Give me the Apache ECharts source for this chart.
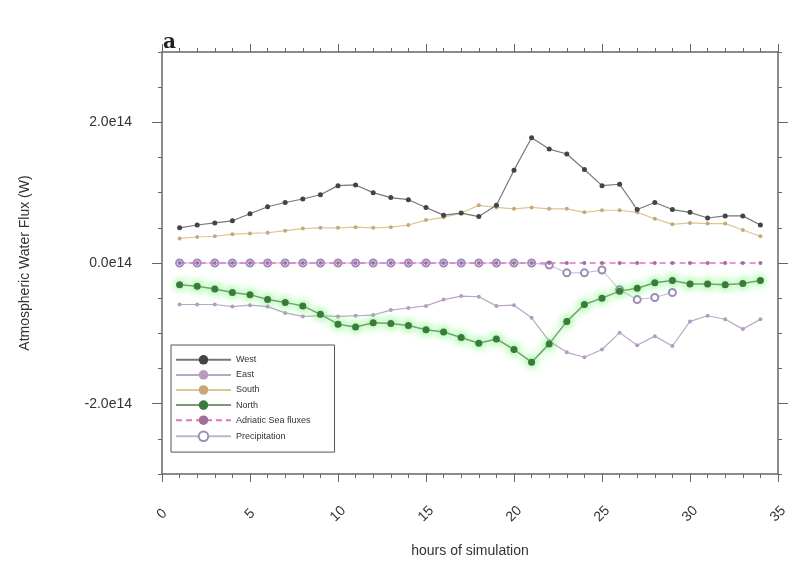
<!DOCTYPE html>
<html>
<head>
<meta charset="utf-8">
<script src="https://cdn.jsdelivr.net/npm/echarts@6/dist/echarts.min.js"></script>
<style>
  html, body { margin: 0; padding: 0; background: #fff; }
  #chart { width: 796px; height: 563px; }
</style>
</head>
<body>
<div id="chart"></div>
<script>
  // hours of simulation
  const hours = [1, 2, 3, 4, 5, 6, 7, 8, 9, 10, 11, 12, 13, 14, 15, 16, 17,
    18, 19, 20, 21, 22, 23, 24, 25, 26, 27, 28, 29, 30, 31, 32, 33, 34]
  // fluxes in units of 1e14 W
  const west = [0.50, 0.54, 0.57, 0.60, 0.70, 0.80, 0.86, 0.91, 0.97, 1.10, 1.11, 1.00, 0.93, 0.90, 0.79, 0.68, 0.71,
    0.66, 0.82, 1.32, 1.78, 1.62, 1.55, 1.33, 1.10, 1.12, 0.76, 0.86, 0.76, 0.72, 0.64, 0.67, 0.67, 0.54]
  const east = [-0.59, -0.59, -0.59, -0.62, -0.60, -0.62, -0.71, -0.76, -0.75, -0.76, -0.75, -0.74, -0.67, -0.64, -0.61, -0.52, -0.47,
    -0.48, -0.61, -0.60, -0.78, -1.11, -1.27, -1.34, -1.23, -0.99, -1.17, -1.04, -1.18, -0.83, -0.75, -0.80, -0.94, -0.80]
  const south = [0.35, 0.37, 0.38, 0.41, 0.42, 0.43, 0.46, 0.49, 0.50, 0.50, 0.51, 0.50, 0.51, 0.54, 0.61, 0.65, 0.71,
    0.82, 0.79, 0.77, 0.79, 0.77, 0.77, 0.72, 0.75, 0.75, 0.72, 0.63, 0.55, 0.57, 0.56, 0.56, 0.47, 0.38]
  const north = [-0.31, -0.33, -0.37, -0.42, -0.45, -0.52, -0.56, -0.61, -0.73, -0.87, -0.91, -0.85, -0.86, -0.89, -0.95, -0.98, -1.06,
    -1.14, -1.08, -1.23, -1.41, -1.15, -0.83, -0.59, -0.50, -0.40, -0.36, -0.28, -0.25, -0.30, -0.30, -0.31, -0.29, -0.25]
  const adriatic = [0, 0, 0, 0, 0, 0, 0, 0, 0, 0, 0, 0, 0, 0, 0, 0, 0,
    0, 0, 0, 0, 0, 0, 0, 0, 0, 0, 0, 0, 0, 0, 0, 0, 0]
  const precip = [0, 0, 0, 0, 0, 0, 0, 0, 0, 0, 0, 0, 0, 0, 0, 0, 0,
    0, 0, 0, 0, -0.03, -0.14, -0.14, -0.10, -0.38, -0.52, -0.49, -0.42, null, null, null, null, null]
  const yLabels = [-2, 0, 2]

  const pairs = (arr) => arr.map((v, i) => [hours[i], v])
  const frame = { onZero: false, lineStyle: { color: '#666', width: 1.5 } }
  const fnt = 'Liberation Sans, Arial, sans-serif'

  let myChart = echarts.init(document.getElementById('chart'))
  myChart.setOption({
    backgroundColor: '#fff',
    animation: false,
    title: {
      text: 'a',
      left: 158,
      top: 28,
      textStyle: { fontFamily: 'DejaVu Serif, serif', fontWeight: 'bold', fontSize: 20, color: '#222' }
    },
    grid: { left: 162, right: 18, top: 52, bottom: 86 },
    legend: {
      orient: 'vertical',
      left: 171,
      top: 345,
      itemWidth: 55,
      itemHeight: 12,
      itemGap: 5.5,
      padding: [10, 24, 10, 4],
      borderColor: '#555',
      borderWidth: 1,
      textStyle: { fontSize: 9, color: '#333', fontFamily: fnt },
      data: ['West', 'East', 'South', 'North', 'Adriatic Sea fluxes', 'Precipitation']
    },
    xAxis: [
      {
        type: 'value',
        position: 'bottom',
        min: 0,
        max: 35,
        interval: 5,
        name: 'hours of simulation',
        nameLocation: 'middle',
        nameGap: 70,
        nameTextStyle: { fontSize: 14, color: '#333', fontFamily: fnt },
        axisLine: frame,
        axisTick: { length: 8, lineStyle: { color: '#666' } },
        minorTick: { show: true, splitNumber: 5, length: 4, lineStyle: { color: '#666' } },
        axisLabel: {
          rotate: 45,
          align: 'center',
          verticalAlign: 'middle',
          margin: 40,
          fontSize: 14,
          color: '#333',
          fontFamily: fnt
        },
        splitLine: { show: false }
      },
      {
        type: 'value',
        position: 'top',
        min: 0,
        max: 35,
        interval: 5,
        axisLine: frame,
        axisTick: { length: 8, lineStyle: { color: '#666' } },
        minorTick: { show: true, splitNumber: 5, length: 4, lineStyle: { color: '#666' } },
        axisLabel: { show: false },
        splitLine: { show: false }
      }
    ],
    yAxis: [
      {
        type: 'value',
        position: 'left',
        min: -3,
        max: 3,
        interval: 0.5,
        name: 'Atmospheric Water Flux (W)',
        nameLocation: 'middle',
        nameGap: 130,
        nameTextStyle: { fontSize: 14, color: '#333', fontFamily: fnt },
        axisLine: frame,
        axisTick: { length: 4, lineStyle: { color: '#666' } },
        axisLabel: {
          margin: 30,
          fontSize: 14,
          color: '#333',
          fontFamily: fnt,
          formatter: (v) => yLabels.indexOf(v) >= 0 ? v.toFixed(1) + 'e14' : ''
        },
        splitLine: { show: false }
      },
      {
        type: 'value',
        position: 'left',
        min: -3,
        max: 3,
        axisLine: { show: false, onZero: false },
        axisTick: { customValues: yLabels, length: 10, lineStyle: { color: '#666' } },
        axisLabel: { show: false },
        splitLine: { show: false }
      },
      {
        type: 'value',
        position: 'right',
        min: -3,
        max: 3,
        interval: 0.5,
        axisLine: frame,
        axisTick: { length: 4, lineStyle: { color: '#666' } },
        axisLabel: { show: false },
        splitLine: { show: false }
      },
      {
        type: 'value',
        position: 'right',
        min: -3,
        max: 3,
        axisLine: { show: false, onZero: false },
        axisTick: { customValues: yLabels, length: 10, lineStyle: { color: '#666' } },
        axisLabel: { show: false },
        splitLine: { show: false }
      }
    ],
    series: [
      {
        name: 'Precipitation',
        type: 'line',
        data: pairs(precip),
        symbol: 'emptyCircle',
        symbolSize: 7,
        lineStyle: { color: '#b4bccc', width: 1 },
        itemStyle: { color: '#9c8cbc', borderWidth: 1.2 },
        z: 2
      },
      {
        name: 'Adriatic Sea fluxes',
        type: 'line',
        data: pairs(adriatic),
        symbol: 'circle',
        symbolSize: 4,
        lineStyle: { color: '#e070c8', width: 1.5, type: [6, 4] },
        itemStyle: { color: '#a0709a' },
        z: 3
      },
      {
        name: 'South',
        type: 'line',
        data: pairs(south),
        symbol: 'circle',
        symbolSize: 4,
        lineStyle: { color: '#d8c896', width: 1.2 },
        itemStyle: { color: '#c8a878' },
        z: 3
      },
      {
        name: 'East',
        type: 'line',
        data: pairs(east),
        symbol: 'circle',
        symbolSize: 4,
        lineStyle: { color: '#b8a8c4', width: 1.2 },
        itemStyle: { color: '#b89ac0' },
        z: 3
      },
      {
        name: 'North',
        type: 'line',
        data: pairs(north),
        symbol: 'circle',
        symbolSize: 7,
        lineStyle: { color: '#7a9a7a', width: 1.5, shadowColor: 'rgba(60, 240, 60, 0.9)', shadowBlur: 10 },
        itemStyle: { color: '#3c7a3c', shadowColor: 'rgba(60, 240, 60, 1)', shadowBlur: 8 },
        z: 4
      },
      {
        name: 'West',
        type: 'line',
        data: pairs(west),
        symbol: 'circle',
        symbolSize: 5,
        lineStyle: { color: '#777', width: 1.2 },
        itemStyle: { color: '#444' },
        z: 5
      }
    ]
  })
</script>
</body>
</html>
